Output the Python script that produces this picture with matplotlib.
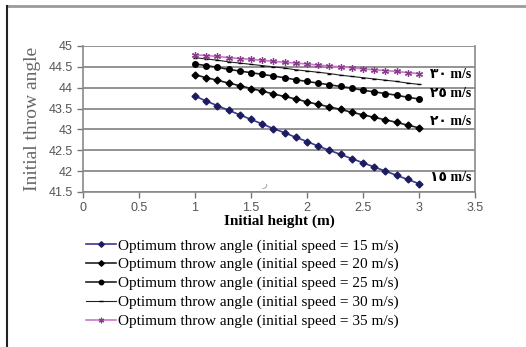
import numpy as np
import matplotlib.pyplot as plt
from matplotlib.lines import Line2D

# initial height (m)
heights = [1.0, 1.1, 1.2, 1.3, 1.4, 1.5, 1.6, 1.7, 1.8, 1.9, 2.0,
           2.1, 2.2, 2.3, 2.4, 2.5, 2.6, 2.7, 2.8, 2.9, 3.0]

# optimum throw angle for each initial speed
angle_15 = [43.80, 43.68, 43.57, 43.46, 43.35, 43.24, 43.13, 43.02, 42.92, 42.81, 42.71,
            42.60, 42.50, 42.40, 42.30, 42.20, 42.10, 42.00, 41.90, 41.80, 41.70]
angle_20 = [44.31, 44.24, 44.18, 44.11, 44.05, 43.98, 43.92, 43.85, 43.79, 43.73, 43.66,
            43.60, 43.54, 43.48, 43.41, 43.35, 43.29, 43.23, 43.17, 43.10, 43.04]
angle_25 = [44.57, 44.53, 44.49, 44.44, 44.40, 44.36, 44.32, 44.28, 44.24, 44.19, 44.15,
            44.11, 44.07, 44.03, 43.99, 43.94, 43.90, 43.86, 43.82, 43.77, 43.73]
angle_30 = [44.72, 44.69, 44.66, 44.62, 44.59, 44.56, 44.53, 44.50, 44.47, 44.43, 44.40,
            44.37, 44.34, 44.30, 44.27, 44.24, 44.21, 44.18, 44.15, 44.11, 44.08]
angle_35 = [44.79, 44.77, 44.75, 44.72, 44.70, 44.68, 44.66, 44.63, 44.61, 44.59, 44.57,
            44.54, 44.52, 44.50, 44.48, 44.45, 44.43, 44.41, 44.39, 44.36, 44.34]

end_labels = ["\u0661\u0665 m/s", "\u0662\u0660 m/s", "\u0662\u0665 m/s", "\u0663\u0660 m/s"]
end_label_y = [41.85, 43.2, 43.85, 44.32]

serif = ["Liberation Serif", "DejaVu Sans"]

fig = plt.figure(figsize=(5.26, 3.47), dpi=100)
ax = fig.add_axes([83 / 526, 1 - 192 / 347, (475 - 83) / 526, (192 - 46) / 347])

ax.plot(heights, angle_15, color="#3a3a90", lw=1.2, marker="D", ms=3.5,
        mfc="#1c1c60", mec="#1c1c60", label="Optimum throw angle (initial speed = 15 m/s)")
ax.plot(heights, angle_20, color="#222222", lw=1.2, marker="D", ms=3.5,
        mfc="black", mec="black", label="Optimum throw angle (initial speed = 20 m/s)")
ax.plot(heights, angle_25, color="#222222", lw=1.2, marker="o", ms=4,
        mfc="black", mec="black", label="Optimum throw angle (initial speed = 25 m/s)")
ax.plot(heights, angle_30, color="#222222", lw=0.8, marker="_", ms=3,
        mec="black", label="Optimum throw angle (initial speed = 30 m/s)")
ax.plot(heights, angle_35, color="#cc77cc", lw=1.2, marker=(6, 2, 0), ms=5,
        mec="#8a3a8a", mew=0.9, label="Optimum throw angle (initial speed = 35 m/s)")

ax.set_xlim(0, 3.5)
ax.set_ylim(41.5, 45)
ax.set_xticks(np.arange(0, 3.51, 0.5))
ax.set_yticks(np.arange(41.5, 45.01, 0.5))
ax.set_xticklabels(["0", "0.5", "1", "1.5", "2", "2.5", "3", "3.5"])
ax.set_yticklabels(["41.5", "42", "42.5", "43", "43.5", "44", "44.5", "45"])
ax.tick_params(colors="#777777", labelcolor="#555555", labelsize=9, length=4, width=1)
for t in ax.get_xticklabels() + ax.get_yticklabels():
    t.set_family("Liberation Sans")
ax.grid(axis="y", color="#8a8a8a", lw=1.3)
ax.set_axisbelow(True)
for s in ax.spines.values():
    s.set_color("#8a8a8a")
    s.set_linewidth(1.2)
ax.spines["top"].set_visible(False)

for lab, y in zip(end_labels, end_label_y):
    ax.text(3.1, y, lab, family=serif, fontsize=10, fontweight="bold",
            ha="left", va="center")
ax.text(1.6, 41.62, "\u0631", family=serif, fontsize=7, color="#999999")

ax.set_xlabel("Initial height (m)", family=serif, fontsize=11, fontweight="bold", labelpad=0)
ax.set_ylabel("Initial throw angle", family=serif, fontsize=14, color="#666666", labelpad=5)

fig.legend(loc="upper left", bbox_to_anchor=(78 / 526, 1 - 231 / 347), frameon=False,
           prop={"family": serif, "size": 11}, handlelength=2.0, handletextpad=0.1,
           labelspacing=0.33, borderpad=0, markerscale=0.8)

fig.add_artist(Line2D([7 / 526, 1], [1 - 6 / 347] * 2, color="#9a9a9a", lw=2))
fig.add_artist(Line2D([7 / 526] * 2, [1 - 6 / 347, 0], color="#222222", lw=1.5))

fig.savefig("out.png", dpi=100)
